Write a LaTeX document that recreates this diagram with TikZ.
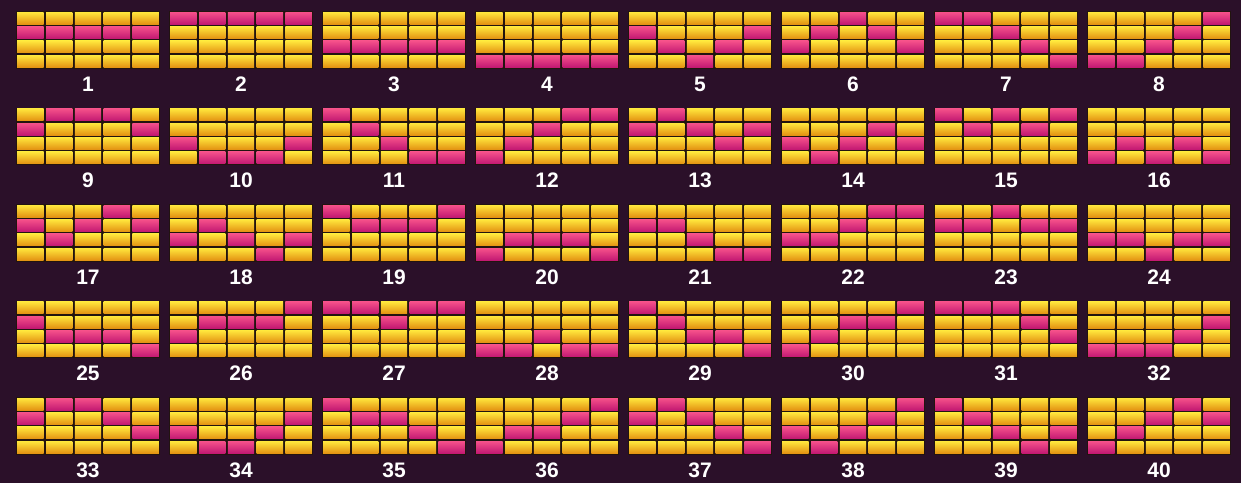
\documentclass[tikz,border=0pt]{standalone}
\usepackage{fontspec}
\setmainfont{Liberation Sans}
\usepackage{tikz}

\definecolor{bgpurple}{HTML}{2B1029}
\definecolor{cellgap}{HTML}{22140F}
\definecolor{goldtop}{HTML}{FFE63C}
\definecolor{goldbot}{HTML}{E39212}
\definecolor{pinktop}{HTML}{F5508A}
\definecolor{pinkbot}{HTML}{C21872}

\tikzset{
  linelabel/.style={text=white, font=\fontsize{21}{25}\selectfont\bfseries, inner sep=0pt}
}

\begin{document}
\begin{tikzpicture}[x=1pt,y=-1pt]
  \fill[bgpurple] (0,0) rectangle (1241,483);
  \useasboundingbox (0,0) rectangle (1241,483);
  \foreach \n/\pay in {1/{1,1,1,1,1},2/{0,0,0,0,0},3/{2,2,2,2,2},4/{3,3,3,3,3},
      5/{1,2,3,2,1},6/{2,1,0,1,2},7/{0,0,1,2,3},8/{3,3,2,1,0},
      9/{1,0,0,0,1},10/{2,3,3,3,2},11/{0,1,2,3,3},12/{3,2,1,0,0},
      13/{1,0,1,2,1},14/{2,3,2,1,2},15/{0,1,0,1,0},16/{3,2,3,2,3},
      17/{1,2,1,0,1},18/{2,1,2,3,2},19/{0,1,1,1,0},20/{3,2,2,2,3},
      21/{1,1,2,3,3},22/{2,2,1,0,0},23/{1,1,0,1,1},24/{2,2,3,2,2},
      25/{1,2,2,2,3},26/{2,1,1,1,0},27/{0,0,1,0,0},28/{3,3,2,3,3},
      29/{0,1,2,2,3},30/{3,2,1,1,0},31/{0,0,0,1,2},32/{3,3,3,2,1},
      33/{1,0,0,1,2},34/{2,3,3,2,1},35/{0,1,1,2,3},36/{3,2,2,1,0},
      37/{1,0,1,2,3},38/{2,3,2,1,0},39/{0,1,2,3,2},40/{3,2,1,0,1}}
  {
    \pgfmathsetmacro\gx{16+153*mod(\n-1,8)}
    \pgfmathsetmacro\gy{11+96.5*int((\n-1)/8)}
    \fill[cellgap] (\gx,\gy) rectangle ++(144,57.5);
    \foreach \r [count=\c from 0] in \pay
      \foreach \k in {0,...,3} {
        \ifnum\k=\r\relax \def\topc{pinktop}\def\botc{pinkbot}%
        \else \def\topc{goldtop}\def\botc{goldbot}\fi
        \shade[top color=\topc, bottom color=\botc]
          (\gx+\c*28.8+1.2,\gy+\k*14.375+1.2) rectangle ++(26.4,12);
      }
    \node[linelabel] (lbl\n) at (\gx+72,\gy+73) {\n};
  }
\end{tikzpicture}
\end{document}
